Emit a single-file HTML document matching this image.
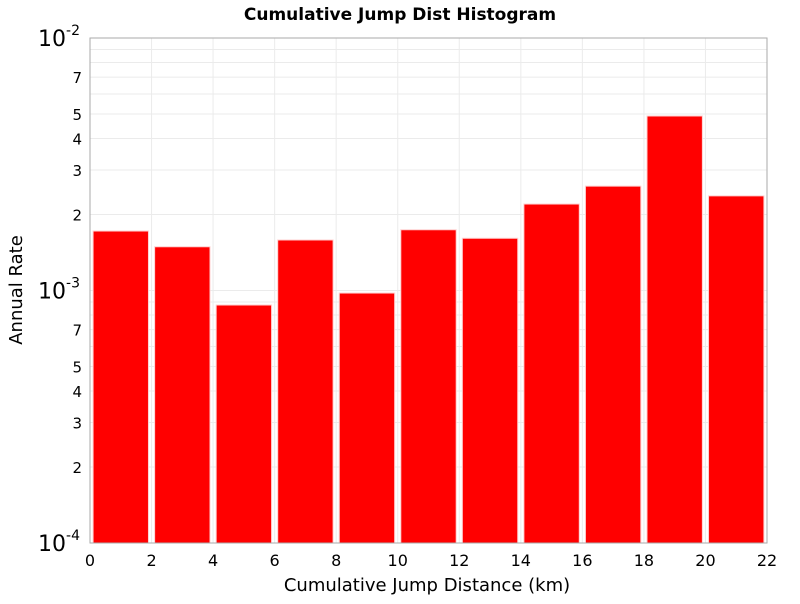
<!DOCTYPE html>
<html><head><meta charset="utf-8"><style>
body{margin:0;background:#fff;font-family:"DejaVu Sans","Liberation Sans",sans-serif}
</style></head><body>
<svg id="c" width="800" height="600" xmlns="http://www.w3.org/2000/svg">
<text x="400" y="20" text-anchor="middle" font-size="17" font-weight="bold" font-family="DejaVu Sans, sans-serif">Cumulative Jump Dist Histogram</text>
<g id="grid"></g><g id="bars"></g><g id="axes"></g>
<text x="427" y="591" text-anchor="middle" font-size="18" font-family="DejaVu Sans, sans-serif">Cumulative Jump Distance (km)</text>
<text transform="translate(22,290) rotate(-90)" text-anchor="middle" font-size="18" font-family="DejaVu Sans, sans-serif">Annual Rate</text>
</svg>
<script>
const binStarts=[0,2,4,6,8,10,12,14,16,18,20];
const rates=[1.72e-3,1.49e-3,8.76e-4,1.585e-3,9.77e-4,1.74e-3,1.61e-3,2.2e-3,2.59e-3,4.91e-3,2.37e-3];
const xTicks=[0,2,4,6,8,10,12,14,16,18,20,22];
const minorLabels=[2,3,4,5,7];
const L=90,R=767,T=38,B=543;
const xs=v=>L+(v-0)/(22-0)*(R-L);
const ys=v=>B-(Math.log10(v)+4)/2*(B-T);
const NS="http://www.w3.org/2000/svg";
function mk(p,t,a){const e=document.createElementNS(NS,t);for(const k in a)e.setAttribute(k,a[k]);p.appendChild(e);return e;}
const grid=document.getElementById('grid'),bars=document.getElementById('bars'),axes=document.getElementById('axes');
mk(grid,'rect',{x:L,y:T,width:R-L,height:B-T,fill:'#fff'});
xTicks.forEach(t=>{const g=mk(grid,'line',{x1:xs(t),x2:xs(t),y1:T,y2:B,stroke:'#ebebeb'});
});
for(let d=-4;d<-2;d++)for(let m=1;m<10;m++){const v=m*Math.pow(10,d);const g=mk(grid,'line',{x1:L,x2:R,y1:ys(v),y2:ys(v),stroke:'#ebebeb'});
}
binStarts.forEach((s,i)=>{const c=s+1;const x0=xs(c-0.9),x1=xs(c+0.9);const y=ys(rates[i]);
const r=mk(bars,'rect',{x:x0,y:y,width:x1-x0,height:B-y,fill:'#ff0000',stroke:'#ffd0d0','stroke-width':1});
});
const f=mk(axes,'rect',{x:L,y:T,width:R-L,height:B-T,fill:'none',stroke:'#aaa'});

xTicks.forEach(t=>{const e=mk(axes,'text',{x:xs(t),y:566,'text-anchor':'middle','font-size':16});e.textContent=t;
});
[-4,-3,-2].forEach(d=>{const e=mk(axes,'text',{x:80,y:ys(Math.pow(10,d))+8,'text-anchor':'end','font-size':22});
e.textContent='10';const s=mk(e,'tspan',{dy:-11,'font-size':14});s.textContent=String(d);
});
for(let d=-4;d<-2;d++)minorLabels.forEach(m=>{const e=mk(axes,'text',{x:82,y:ys(m*Math.pow(10,d))+6,'text-anchor':'end','font-size':15});e.textContent=m;
});
</script>
</body></html>
